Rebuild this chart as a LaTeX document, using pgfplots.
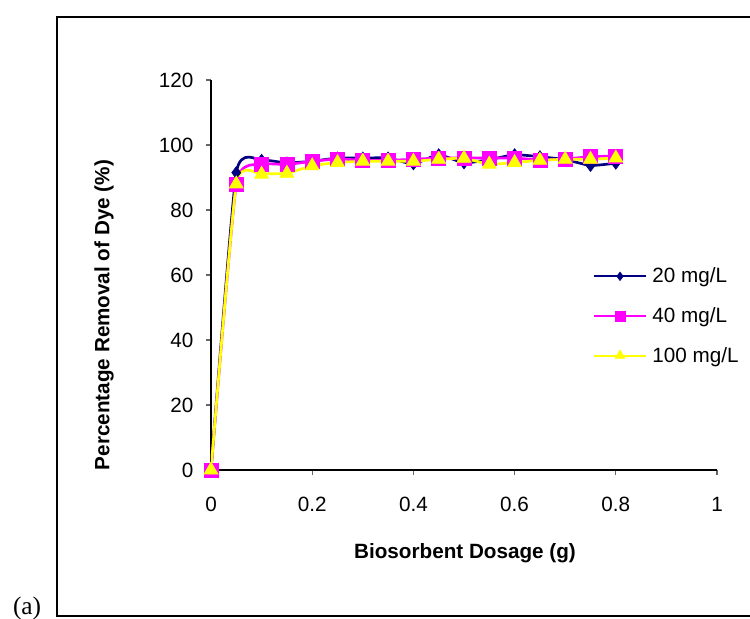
\documentclass[border=0pt]{standalone}
\usepackage{pgfplots}
\pgfplotsset{compat=1.18}
\usepackage{fontspec}
\setmainfont{Liberation Sans}
\newfontfamily\serifa{Liberation Serif}
\definecolor{sNavy}{RGB}{0,0,128}
\definecolor{sMag}{RGB}{255,0,255}
\definecolor{sYel}{RGB}{255,255,0}

\pgfplotstableread{
x     a     b     c
0     0     0     0
0.05  91.5  88.0  88.0
0.10  95.3  94.0  91.0
0.15  94.5  94.0  91.3
0.20  95.0  95.0  93.6
0.25  96.0  95.7  94.6
0.30  96.0  95.3  95.0
0.35  96.0  95.3  95.0
0.40  94.2  95.6  95.0
0.45  97.0  96.0  95.6
0.50  94.5  96.0  95.9
0.55  95.5  96.0  94.1
0.60  97.0  96.0  94.6
0.65  96.4  95.4  95.3
0.70  95.5  95.7  95.6
0.75  93.7  96.4  95.6
0.80  94.4  96.6  96.0
}\dye

\begin{document}
\begin{tikzpicture}
\useasboundingbox (-158.25pt,-111pt) rectangle (404.25pt,352.5pt);
% outer frame (right side falls outside the picture)
\draw[line width=1.1pt] (404.25pt,339.75pt) -- (-115.5pt,339.75pt) -- (-115.5pt,-109.5pt) -- (404.25pt,-109.5pt);
\node[font=\serifa\fontsize{19}{22}\selectfont, anchor=base west] at (-152pt,-108pt) {(a)};

\begin{axis}[
    at={(0,0)}, anchor=south west,
    scale only axis,
    width=379.5pt, height=292.5pt,
    xmin=0, xmax=1, ymin=0, ymax=120,
    axis lines=left,
    axis line style={-, black, line width=0.8pt},
    xtick={0,0.2,0.4,0.6,0.8,1},
    ytick={0,20,...,120},
    xticklabels={0,0.2,0.4,0.6,0.8,1},
    tick align=outside,
    major tick length=3.75pt,
    tick style={black!60, line width=0.8pt},
    ticklabel style={font=\fontsize{15.5}{18}\selectfont},
    /pgf/number format/assume math mode=true,
    xticklabel style={yshift=-13pt},
    yticklabel style={xshift=-6pt},
    legend style={draw=none, fill=none, inner sep=0pt, outer sep=0pt,
        at={(axis cs:0.755,47.4)}, anchor=west,
        font=\fontsize{15.5}{18}\selectfont, row sep=15pt,
        nodes={inner sep=1pt}},
    legend cell align=left,
    legend image code/.code={
        \draw[mark repeat=2, mark phase=2, #1, line width=1.5pt, every mark/.append style={scale=0.7}] plot coordinates {(0pt,0pt) (19.5pt,0pt) (39pt,0pt)};
    },
    every axis plot/.append style={line width=2pt, smooth, tension=0.3},
]
\addplot[color=sNavy, mark=diamond*, mark size=4.5pt, mark options={solid, line width=0.5pt, fill=sNavy}] table[x=x, y=a] {\dye};
\addlegendentry{\hspace{3pt}20 mg/L}
\addplot[color=sMag, mark=square*, mark size=5.25pt, mark options={solid, line width=0.5pt, fill=sMag}] table[x=x, y=b] {\dye};
\addlegendentry{\hspace{3pt}40 mg/L}
\addplot[color=sYel, mark=triangle*, mark size=6pt, mark options={solid, line width=0.5pt, fill=sYel}] table[x=x, y=c] {\dye};
\addlegendentry{\hspace{3pt}100 mg/L}
\end{axis}

\node[font=\bfseries\fontsize{15.5}{18}\selectfont, rotate=90] at (-80.25pt,116.25pt) {Percentage Removal of Dye (\%)};
\node[font=\bfseries\fontsize{15.5}{18}\selectfont] at (190.5pt,-62.25pt) {Biosorbent Dosage (g)};
\end{tikzpicture}
\end{document}
